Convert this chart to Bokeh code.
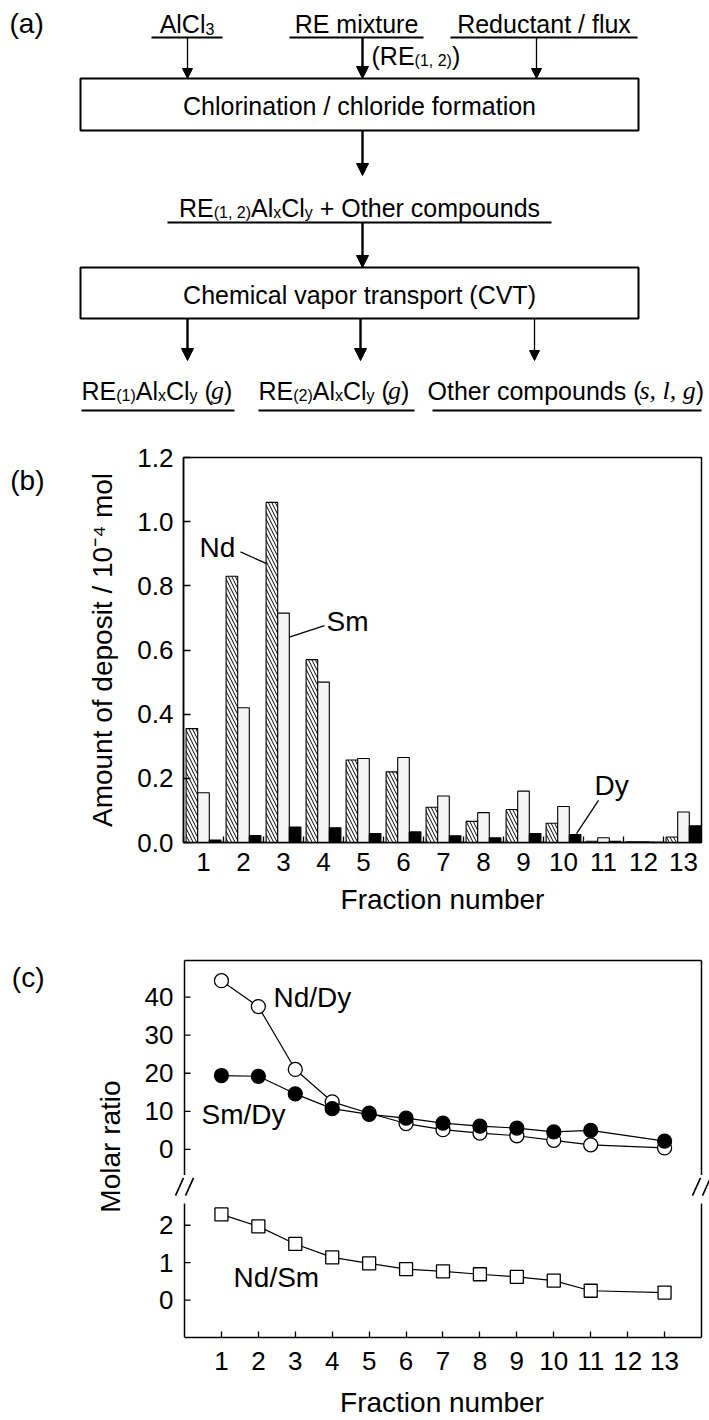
import numpy as np
from bokeh.plotting import figure
from bokeh.models import (Range1d, LinearAxis, FixedTicker, Arrow, NormalHead,
                          ColumnDataSource, PrintfTickFormatter, CustomJSTickFormatter)
from bokeh.transform import dodge
from bokeh.embed import file_html
from bokeh.resources import INLINE

FONT = "Liberation Sans"
SERIF = "Liberation Serif"

# ---------------- data ----------------
fractions = list(range(1, 14))
fraction_labels = [str(f) for f in fractions]
nd_amount = [0.355, 0.83, 1.06, 0.57, 0.257, 0.22, 0.11, 0.066, 0.103, 0.06, 0.004, 0.002, 0.017]
sm_amount = [0.155, 0.42, 0.715, 0.50, 0.262, 0.265, 0.145, 0.093, 0.16, 0.112, 0.015, 0.002, 0.095]
dy_amount = [0.008, 0.022, 0.048, 0.046, 0.028, 0.033, 0.021, 0.015, 0.028, 0.025, 0.004, 0.001, 0.052]
amount_ticks = [0.0, 0.2, 0.4, 0.6, 0.8, 1.0, 1.2]

ratio_fractions = [1, 2, 3, 4, 5, 6, 7, 8, 9, 10, 11, 13]
nd_dy = [44.3, 37.5, 21.0, 12.5, 9.5, 6.8, 5.2, 4.3, 3.6, 2.4, 1.2, 0.4]
sm_dy = [19.4, 19.2, 14.6, 10.7, 9.2, 8.2, 6.9, 6.1, 5.6, 4.6, 5.0, 2.2]
nd_sm = [2.29, 1.97, 1.50, 1.14, 0.98, 0.83, 0.77, 0.69, 0.62, 0.52, 0.25, 0.20]
upper_ticks = [0, 10, 20, 30, 40]
lower_ticks = [0, 1, 2]

# ---------------- text metrics (Arial-compatible advance widths) ----------------
SANS_W = {' ': 278, '(': 333, ')': 333, ',': 278, '/': 278, '+': 584, 'A': 667, 'C': 722,
          'D': 722, 'E': 667, 'F': 611, 'M': 833, 'N': 722, 'O': 778, 'R': 722, 'S': 667,
          'T': 611, 'V': 667, 'a': 556, 'b': 556, 'c': 500, 'd': 556, 'e': 556, 'f': 278,
          'g': 556, 'h': 556, 'i': 222, 'l': 222, 'm': 833, 'n': 556, 'o': 556, 'p': 556,
          'r': 333, 's': 500, 't': 278, 'u': 556, 'v': 500, 'x': 500, 'y': 500}
SERIF_IW = {' ': 250, ',': 250, 'g': 500, 's': 389, 'l': 278}

# run kinds: normal text, subscript, italic serif symbol
RUN_STYLE = {
    "n": dict(font=FONT, size=25, style="normal", dy=0, dx=0, table=SANS_W),
    "s": dict(font=FONT, size=16, style="normal", dy=5, dx=0, table=SANS_W),
    "i": dict(font=SERIF, size=26, style="italic", dy=0, dx=-2, table=SERIF_IW),
}
BASE_SHIFT = -8   # baseline correction for the text glyph


def adv(txt, st):
    return sum(st["table"].get(c, 556) for c in txt) * st["size"] / 1000.0


def run_width(runs):
    return sum(adv(txt, RUN_STYLE[kind]) + RUN_STYLE[kind]["dx"] for txt, kind in runs)


def lay_out(runs, x0, baseline, rows):
    x = x0
    for txt, kind in runs:
        st = RUN_STYLE[kind]
        lead = len(txt) - len(txt.lstrip(" "))
        x += adv(" " * lead, st) + st["dx"]
        body = txt.lstrip(" ")
        rows.append(dict(x=x, y=baseline + st["dy"] + BASE_SHIFT, text=body,
                         size=f'{st["size"]}px', font=st["font"], style=st["style"]))
        x += adv(body, st)


def centered(runs, cx, baseline, rows):
    lay_out(runs, cx - run_width(runs) / 2.0, baseline, rows)


def style_axis(ax, tick_size="26px", title_size="28px"):
    ax.axis_line_width = 1.5
    ax.axis_line_color = "black"
    ax.major_tick_line_width = 1.3
    ax.minor_tick_line_width = 1.3
    ax.major_tick_line_color = "black"
    ax.major_label_text_font = FONT
    ax.major_label_text_font_size = tick_size
    ax.major_label_text_color = "black"
    ax.axis_label_text_font = FONT
    ax.axis_label_text_font_size = title_size
    ax.axis_label_text_font_style = "normal"
    ax.axis_label_text_color = "black"


def panel_tag(text, y, standoff):
    """An outer, line-less axis whose single tick label carries the panel letter."""
    return LinearAxis(ticker=FixedTicker(ticks=[y]),
                      formatter=CustomJSTickFormatter(code=f"return '{text}';"),
                      axis_line_color=None, major_tick_line_color=None,
                      minor_tick_line_color=None, major_tick_in=0, major_tick_out=0,
                      minor_tick_in=0, minor_tick_out=0, major_label_standoff=standoff,
                      major_label_text_font=FONT, major_label_text_font_size="28px",
                      major_label_text_color="black")


# ---------------- (a) process flow ----------------
fa = figure(width=709, height=440, x_range=Range1d(0, 709), y_range=Range1d(440, 0),
            output_backend="svg", toolbar_location=None, x_axis_location=None,
            y_axis_location=None, min_border=0)
fa.grid.visible = False
fa.outline_line_color = None

rows = []
centered([("AlCl", "n"), ("3", "s")], 186.5, 31, rows)
centered([("RE mixture", "n")], 356, 31, rows)
centered([("Reductant / flux", "n")], 543.5, 31, rows)
lay_out([("(RE", "n"), ("(1, 2)", "s"), (")", "n")], 371, 63, rows)
centered([("Chlorination / chloride formation", "n")], 359, 113, rows)
mixed = [("RE", "n"), ("(1, 2)", "s"), ("Al", "n"), ("x", "s"), ("Cl", "n"), ("y", "s"),
         (" + Other compounds", "n")]
centered(mixed, 359, 215, rows)
centered([("Chemical vapor transport (CVT)", "n")], 359, 302, rows)
lay_out([("RE", "n"), ("(1)", "s"), ("Al", "n"), ("x", "s"), ("Cl", "n"), ("y", "s"),
         (" (", "n"), ("g", "i"), (")", "n")], 81, 398, rows)
lay_out([("RE", "n"), ("(2)", "s"), ("Al", "n"), ("x", "s"), ("Cl", "n"), ("y", "s"),
         (" (", "n"), ("g", "i"), (")", "n")], 258, 398, rows)
lay_out([("Other compounds (", "n"), ("s, l, g", "i"), (")", "n")], 427, 398, rows)

for style in ("normal", "italic"):
    sel = [r for r in rows if r["style"] == style]
    src = ColumnDataSource({k: [r[k] for r in sel] for k in ("x", "y", "text", "size", "font")})
    fa.text(x="x", y="y", text="text", source=src, text_font="font", text_font_size="size",
            text_font_style=style, text_baseline="alphabetic", text_align="left",
            text_color="black")

fa.text(x=[9], y=[23], text=["(a)"], text_font_size="28px", text_baseline="middle",
        text_align="left", text_color="black", text_font={"value": FONT})

# underlines
fa.segment(x0=[151, 289, 450, 167, 81, 258, 432], x1=[222, 423, 637, 551, 234, 414, 701],
           y0=[37, 37, 37, 222, 410, 410, 410], y1=[37, 37, 37, 222, 410, 410, 410],
           line_color="black", line_width=2)
# process boxes
fa.quad(left=[80, 80], right=[638, 638], top=[78, 267], bottom=[130, 318],
        fill_color=None, line_color="black", line_width=2)

arrows = [  # x, y_start, y_end, weight
    (187, 37, 78, 1.3), (362, 37, 78, 2.4), (536, 37, 78, 1.3),
    (362, 130, 175, 2.4), (362, 222, 267, 2.4),
    (187, 318, 360, 2.4), (360, 318, 360, 2.4), (534, 318, 360, 1.3),
]
for ax_x, ys, ye, lw in arrows:
    head = NormalHead(size=12 if lw > 2 else 10, fill_color="black", line_color="black",
                      line_width=1)
    fa.add_layout(Arrow(end=head, x_start=ax_x, y_start=ys, x_end=ax_x, y_end=ye,
                        line_width=lw, line_color="black"))

# ---------------- (b) deposit amounts ----------------
fb = figure(width=709, height=490, x_range=Range1d(0.5, 13.45), y_range=Range1d(0, 1.2),
            output_backend="svg", toolbar_location=None, min_border_left=183,
            min_border_right=8, min_border_top=17, min_border_bottom=88)
fb.grid.visible = False
fb.outline_line_color = "black"
fb.outline_line_width = 1.5

bar_src = ColumnDataSource(dict(f=fractions, nd=nd_amount, sm=sm_amount, dy=dy_amount))
BW = 0.29
fb.vbar(x=dodge("f", -BW, range=fb.x_range), top="nd", width=BW, source=bar_src,
        fill_color="white", line_color="black", line_width=1.1,
        hatch_pattern="\\", hatch_scale=7, hatch_weight=1.0, hatch_color="black")
fb.vbar(x=dodge("f", 0, range=fb.x_range), top="sm", width=BW, source=bar_src,
        fill_color="#f5f5f5", line_color="black", line_width=1.1)
fb.vbar(x=dodge("f", BW, range=fb.x_range), top="dy", width=BW, source=bar_src,
        fill_color="black", line_color="black", line_width=1.1)

bx = fb.below[0]
by = fb.left[0]
style_axis(bx)
style_axis(by)
bx.ticker = FixedTicker(ticks=fractions, minor_ticks=[f + 0.5 for f in range(0, 14)])
bx.major_label_overrides = {f: s for f, s in zip(fractions, fraction_labels)}
bx.major_tick_in = 0
bx.major_tick_out = 0
bx.minor_tick_in = 6
bx.minor_tick_out = 0
bx.axis_label = "Fraction number"
bx.major_label_standoff = 10
bx.axis_label_standoff = 10
by.ticker = FixedTicker(ticks=amount_ticks)
by.formatter = PrintfTickFormatter(format="%.1f")
by.major_tick_in = 7
by.major_tick_out = 0
by.minor_tick_in = 0
by.minor_tick_out = 0
by.axis_label = "Amount of deposit / 10\u207b\u2074 mol"
by.major_label_standoff = 10
by.axis_label_standoff = 16
fb.add_layout(panel_tag("(b)", 1.128, 40), "left")

# series labels with leader lines
fb.text(x=[0.9, 4.075, 10.775], y=[0.92, 0.69, 0.178], text=["Nd", "Sm", "Dy"],
        text_font={"value": FONT}, text_font_size="28px", text_baseline="middle",
        text_align="left", text_color="black")
fb.segment(x0=[1.925, 4.025, 10.875], y0=[0.906, 0.676, 0.131],
           x1=[2.575, 3.145, 10.325], y1=[0.869, 0.640, 0.028],
           line_color="black", line_width=1.3)

# ---------------- (c) molar ratios on a broken axis ----------------
# lower part (Nd/Sm) uses the main range, upper part (x/Dy) the "upper" range
fc = figure(width=709, height=490, x_range=Range1d(-0.271, 14.217),
            y_range=Range1d(-1.0, 9.2105), output_backend="svg", toolbar_location=None,
            min_border_left=174, min_border_right=0, min_border_top=25, min_border_bottom=77)
fc.extra_y_ranges = {"upper": Range1d(-49.35, 50.90)}
fc.grid.visible = False
fc.outline_line_color = None

lo = fc.y_range
up = fc.extra_y_ranges["upper"]


def to_lower(v):
    return lo.start + (v - up.start) * (lo.end - lo.start) / (up.end - up.start)


X0, X1 = 0.0, 14.0            # plot box edges in fraction units
UP_BOT, UP_TOP = -6.7, 49.6   # extent of the upper box part (upper units)
LO_BOT, LO_TOP = -1.0, 2.58   # extent of the lower box part (lower units)

tick_pos = [float(t) for t in lower_ticks] + [round(to_lower(v), 6) for v in upper_ticks]
tick_txt = [str(t) for t in lower_ticks] + [str(t) for t in upper_ticks]
cy = fc.left[0]
cx = fc.below[0]
style_axis(cy)
style_axis(cx)
cy.ticker = FixedTicker(ticks=tick_pos)
cy.formatter = CustomJSTickFormatter(args=dict(pos=tick_pos, lab=tick_txt), code="""
    let best = 0, d = Infinity;
    for (let i = 0; i < pos.length; i++) {
        const e = Math.abs(pos[i] - tick);
        if (e < d) { d = e; best = i; }
    }
    return lab[best];
""")
cy.axis_line_color = None
cy.major_tick_in = 0
cy.major_tick_out = 0
cy.minor_tick_in = 0
cy.minor_tick_out = 0
cy.major_label_standoff = 1
cy.axis_label = "Molar ratio"
cy.axis_label_standoff = 16
fc.add_layout(panel_tag("(c)", 8.63, 47), "left")

cx.ticker = FixedTicker(ticks=fractions)
cx.major_label_overrides = {f: s for f, s in zip(fractions, fraction_labels)}
cx.bounds = (X0, X1)
cx.major_tick_in = 6
cx.major_tick_out = 0
cx.minor_tick_in = 0
cx.minor_tick_out = 0
cx.axis_label = "Fraction number"
cx.major_label_standoff = 14
cx.axis_label_standoff = 14

# box sides with the break gap, and inward ticks on the left side
tick_len = 6 / 36.9
fc.segment(x0=[X0, X1, X0], x1=[X0, X1, X1], y0=[UP_BOT, UP_BOT, UP_TOP],
           y1=[UP_TOP, UP_TOP, UP_TOP], y_range_name="upper", line_color="black",
           line_width=1.5)
fc.segment(x0=[X0] * len(upper_ticks), x1=[X0 + tick_len] * len(upper_ticks),
           y0=upper_ticks, y1=upper_ticks, y_range_name="upper", line_color="black",
           line_width=1.3)
fc.segment(x0=[X0, X1], x1=[X0, X1], y0=[LO_BOT, LO_BOT], y1=[LO_TOP, LO_TOP],
           line_color="black", line_width=1.5)
fc.segment(x0=[X0] * len(lower_ticks), x1=[X0 + tick_len] * len(lower_ticks),
           y0=lower_ticks, y1=lower_ticks, line_color="black", line_width=1.3)

# "//" break marks straddling both sides
gap_y = 3.03
mdx, mdy, sep = 4 / 36.9, 9 / 38.0, 5 / 36.9
brk_x0, brk_x1, brk_y0, brk_y1 = [], [], [], []
for side in (X0, X1):
    for s in (-sep, sep):
        brk_x0.append(side + s - mdx)
        brk_x1.append(side + s + mdx)
        brk_y0.append(gap_y - mdy)
        brk_y1.append(gap_y + mdy)
fc.segment(x0=brk_x0, x1=brk_x1, y0=brk_y0, y1=brk_y1, line_color="black", line_width=1.6)

ratio_src = ColumnDataSource(dict(f=ratio_fractions, nd_dy=nd_dy, sm_dy=sm_dy, nd_sm=nd_sm))
fc.line(x="f", y="nd_dy", source=ratio_src, y_range_name="upper", line_color="black",
        line_width=1.2)
fc.line(x="f", y="sm_dy", source=ratio_src, y_range_name="upper", line_color="black",
        line_width=1.2)
fc.line(x="f", y="nd_sm", source=ratio_src, line_color="black", line_width=1.2)
fc.scatter(x="f", y="nd_dy", source=ratio_src, y_range_name="upper", marker="circle",
           size=14, fill_color="white", line_color="black", line_width=1.3)
fc.scatter(x="f", y="sm_dy", source=ratio_src, y_range_name="upper", marker="circle",
           size=14, fill_color="black", line_color="black", line_width=1.3)
fc.scatter(x="f", y="nd_sm", source=ratio_src, marker="square", size=13,
           fill_color="white", line_color="black", line_width=1.3)

fc.text(x=[2.41, 0.46], y=[39.8, 9.3], text=["Nd/Dy", "Sm/Dy"], y_range_name="upper",
        text_font={"value": FONT}, text_font_size="28px", text_baseline="middle",
        text_align="left", text_color="black")
fc.text(x=[1.33], y=[0.6], text=["Nd/Sm"], text_font={"value": FONT},
        text_font_size="28px", text_baseline="middle", text_align="left", text_color="black")

open("out.html", "w").write(file_html([fa, fb, fc], INLINE))
